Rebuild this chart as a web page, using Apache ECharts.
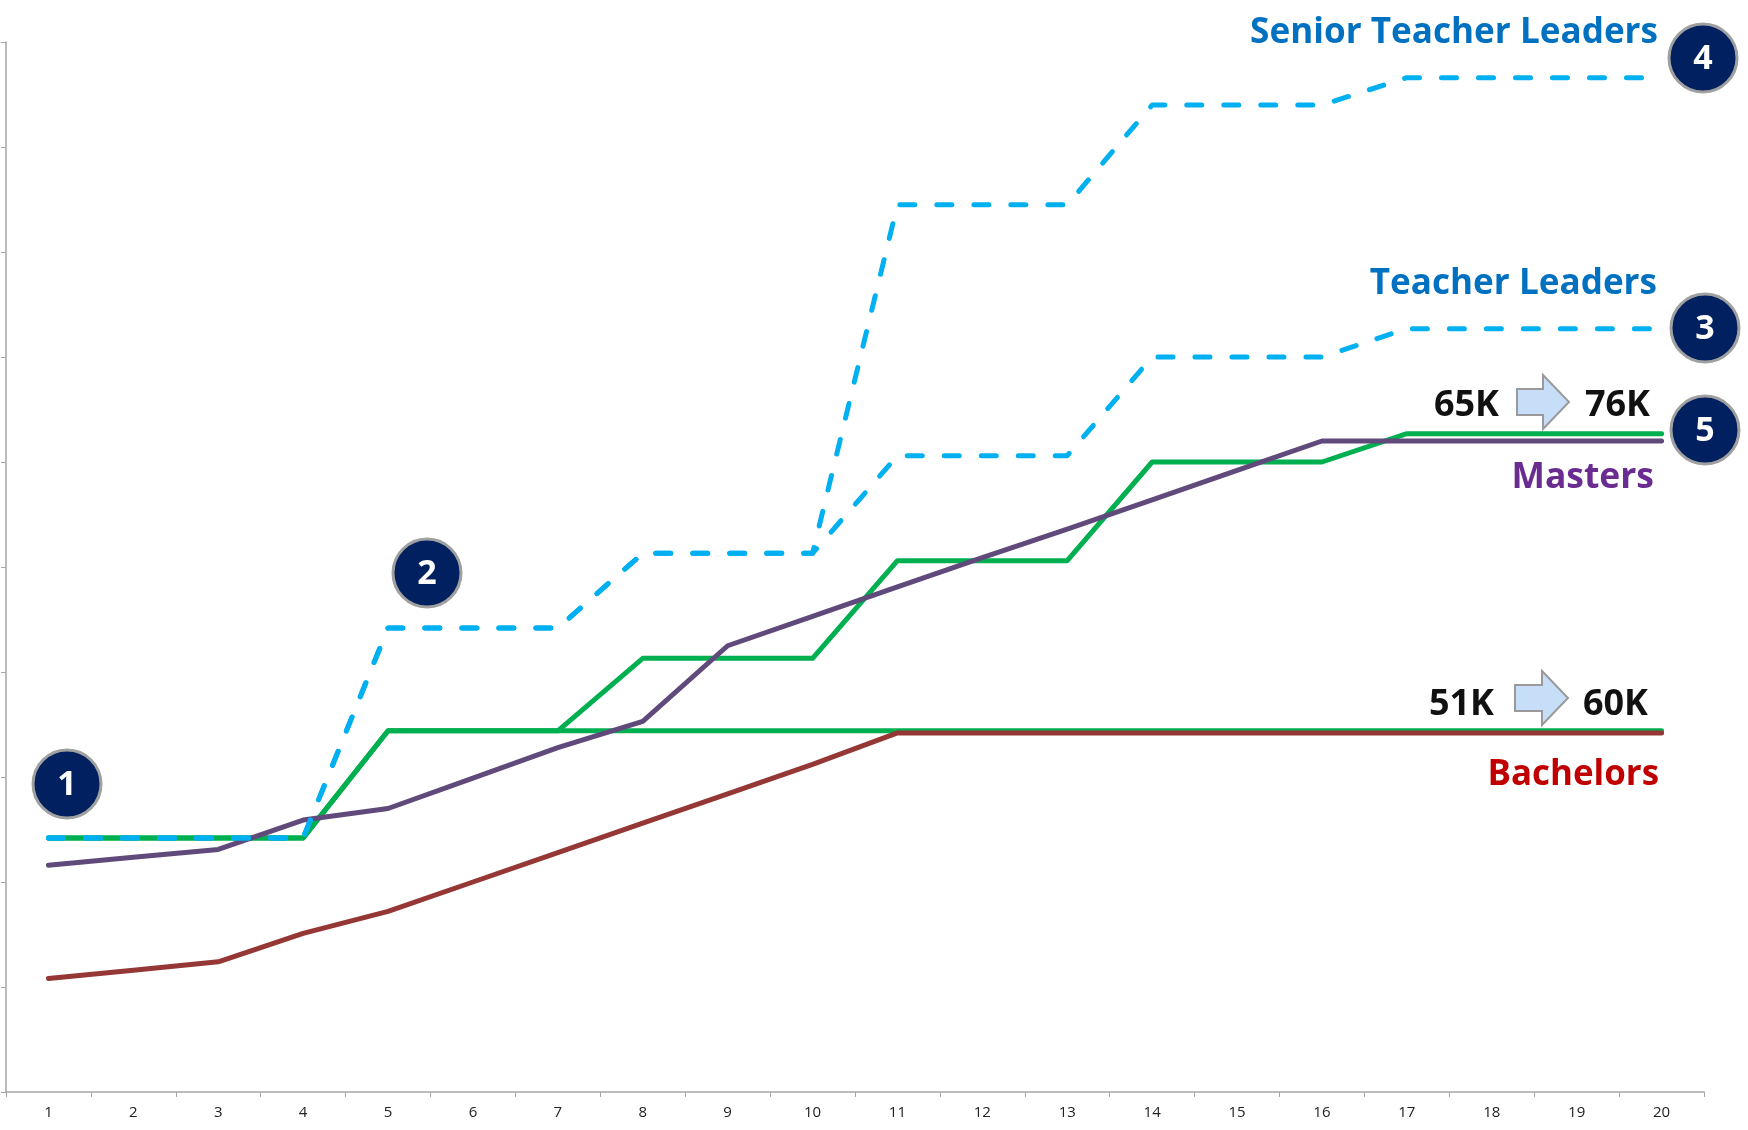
<!DOCTYPE html>
<html>
<head>
<meta charset="utf-8">
<title>Salary steps</title>
<script src="https://cdn.jsdelivr.net/npm/echarts@6/dist/echarts.min.js"></script>
<style>
  html, body { margin: 0; padding: 0; background: #fff; }
  #chart { width: 1748px; height: 1130px; }
</style>
</head>
<body>
<div id="chart"></div>
<script>
// years on the scale
const steps = ['1', '2', '3', '4', '5', '6', '7', '8', '9', '10',
  '11', '12', '13', '14', '15', '16', '17', '18', '19', '20'];

// values (y axis has no labels, 0-100 relative units)
const bachelors = [10.8, 11.6, 12.4, 15.1, 17.2, 20.0, 22.8, 25.6, 28.4, 31.2,
  34.2, 34.2, 34.2, 34.2, 34.2, 34.2, 34.2, 34.2, 34.2, 34.2];
const masters = [21.6, 22.35, 23.1, 25.9, 27.0, 29.9, 32.8, 35.3, 42.5, 45.3,
  48.1, 50.9, 53.6, 56.4, 59.2, 62.0, 62.0, 62.0, 62.0, 62.0];
const newBachelors = [24.2, 24.2, 24.2, 24.2, 34.4, 34.4, 34.4, 34.4, 34.4, 34.4,
  34.4, 34.4, 34.4, 34.4, 34.4, 34.4, 34.4, 34.4, 34.4, 34.4];
const newMasters = [24.2, 24.2, 24.2, 24.2, 34.4, 34.4, 34.4, 41.3, 41.3, 41.3,
  50.6, 50.6, 50.6, 60.0, 60.0, 60.0, 62.7, 62.7, 62.7, 62.7];
const teacherLeaders = [24.2, 24.2, 24.2, 24.2, 44.2, 44.2, 44.2, 51.3, 51.3, 51.3,
  60.6, 60.6, 60.6, 70.0, 70.0, 70.0, 72.7, 72.7, 72.7, 72.7];
const seniorTeacherLeaders = [24.2, 24.2, 24.2, 24.2, 44.2, 44.2, 44.2, 51.3, 51.3, 51.3,
  84.5, 84.5, 84.5, 94.0, 94.0, 94.0, 96.6, 96.6, 96.6, 96.6];

const FONT = '"Open Sans", "Noto Sans", sans-serif';
const axisGray = '#A6A6A6';

function solid(name, data, color) {
  return {
    name: name,
    type: 'line',
    data: data,
    showSymbol: false,
    symbol: 'none',
    lineStyle: { color: color, width: 5, cap: 'round', join: 'round' },
    z: 2
  };
}

function dashed(name, data) {
  return {
    name: name,
    type: 'line',
    data: data,
    showSymbol: false,
    symbol: 'none',
    lineStyle: { color: '#00B0F0', width: 5, type: [15, 22], cap: 'round', join: 'round' },
    z: 3
  };
}

// numbered badge
function badge(num, cx, cy) {
  return [
    {
      type: 'circle',
      shape: { cx: cx, cy: cy, r: 34 },
      style: { fill: '#002060', stroke: '#A0A0A0', lineWidth: 3 },
      z: 100
    },
    {
      type: 'text',
      style: {
        text: String(num), x: cx, y: cy + 1,
        fill: '#fff', font: 'bold 34px ' + FONT,
        align: 'center', verticalAlign: 'middle',
        textAlign: 'center', textVerticalAlign: 'middle'
      },
      z: 101
    }
  ];
}

// right aligned label, squeezed a little to get the narrow look of the original
function label(text, x, y, color, sx) {
  return {
    type: 'text',
    x: x,
    y: y + 3,
    scaleX: sx || 1,
    style: {
      text: text, x: 0, y: 0, fill: color,
      font: 'bold 36px ' + FONT,
      align: 'right', verticalAlign: 'middle',
      textAlign: 'right', textVerticalAlign: 'middle'
    },
    z: 100
  };
}

// block arrow, x0 = left of body, tip at x1
function arrow(x0, x1, cy) {
  const hx = x1 - 26;
  return {
    type: 'polygon',
    shape: {
      points: [[x0, cy - 13], [hx, cy - 13], [hx, cy - 27], [x1, cy],
        [hx, cy + 27], [hx, cy + 13], [x0, cy + 13]]
    },
    style: { fill: '#C6DEF7', stroke: '#9A9A9A', lineWidth: 2 },
    z: 100
  };
}

const chart = echarts.init(document.getElementById('chart'));

const options = {
  animation: false,
  grid: { left: 6, right: 44, top: 42, bottom: 38 },
  xAxis: {
    type: 'category',
    data: steps,
    boundaryGap: true,
    axisLine: { lineStyle: { color: axisGray, width: 1.5 } },
    axisTick: { show: true, length: 5, lineStyle: { color: axisGray } },
    axisLabel: { color: '#222', fontSize: 15, fontFamily: FONT, margin: 13 }
  },
  yAxis: {
    type: 'value',
    min: 0,
    max: 100,
    interval: 10,
    splitLine: { show: false },
    axisLine: { show: true, lineStyle: { color: axisGray, width: 1.5 } },
    axisTick: { show: true, length: 5, lineStyle: { color: axisGray } },
    axisLabel: { show: false }
  },
  series: [
    solid('New Bachelors', newBachelors, '#00B050'),
    solid('New Masters', newMasters, '#00B050'),
    solid('Bachelors', bachelors, '#953735'),
    solid('Masters', masters, '#604A7B'),
    dashed('Teacher Leaders', teacherLeaders),
    dashed('Senior Teacher Leaders', seniorTeacherLeaders)
  ],
  graphic: [
    label('Senior Teacher Leaders', 1658, 30, '#0070C0', 0.975),
    label('Teacher Leaders', 1657, 281, '#0070C0', 0.975),
    label('65K', 1499, 403, '#111'),
    label('76K', 1650, 403, '#111'),
    label('Masters', 1654, 475, '#6B2C91', 0.985),
    label('51K', 1494, 702, '#111'),
    label('60K', 1648, 702, '#111'),
    label('Bachelors', 1659, 772, '#C00000', 0.97),
    arrow(1517, 1569, 402),
    arrow(1515, 1568, 698)
  ]
    .concat(badge(1, 67, 784))
    .concat(badge(2, 427, 573))
    .concat(badge(3, 1705, 328))
    .concat(badge(4, 1703, 58))
    .concat(badge(5, 1705, 430))
};

chart.setOption(options);
</script>
</body>
</html>
